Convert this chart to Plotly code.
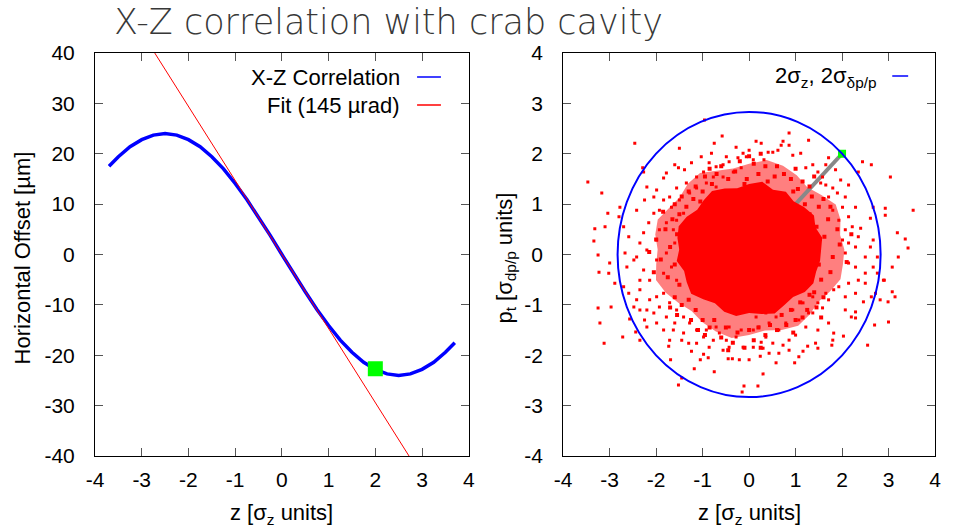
import plotly.graph_objects as go

# ---------------- data ----------------
# left panel: X-Z correlation curve
corr_z = [-3.7, -3.5, -3.25, -3.0, -2.75, -2.5, -2.25, -2.0, -1.75, -1.5, -1.25, -1.0, -0.75, -0.5, -0.25,
          0.0, 0.25, 0.5, 0.75, 1.0, 1.25, 1.5, 1.75, 2.0, 2.25, 2.5, 2.75, 3.0, 3.25, 3.5, 3.7]
corr_x = [17.5, 19.4, 21.4, 22.8, 23.7, 24.0, 23.7, 22.8, 21.4, 19.4, 17.0, 14.1, 10.9, 7.4, 3.8,
          0.0, -3.8, -7.4, -10.9, -14.1, -17.0, -19.4, -21.4, -22.8, -23.7, -24.0, -23.7, -22.8, -21.4, -19.4, -17.5]
fit_z = [-4.0, 4.0]
fit_x = [58.8, -58.8]
mark_left_z = [2.0]
mark_left_x = [-22.7]

# right panel
circle_r = 2.83
arrow_z = [0.0, 2.0]
arrow_p = [0.0, 2.0]
mark_right_z = [2.0]
mark_right_p = [2.0]

# dense core of the particle cloud (outline)
core_z = [1.55, 1.573, 1.428, 1.396, 1.187, 0.957, 0.791, 0.514, 0.283, 0.0, -0.256, -0.525, -0.798, -0.977,
          -1.116, -1.342, -1.515, -1.542, -1.504, -1.557, -1.399, -1.342, -1.247, -0.987, -0.736, -0.535,
          -0.278, 0.0, 0.270, 0.551, 0.760, 0.947, 1.199, 1.383, 1.442, 1.527, 1.55]
core_p = [0.10, 0.333, 0.536, 0.776, 0.936, 1.056, 1.248, 1.285, 1.444, 1.40, 1.316, 1.310, 1.260, 1.076,
          0.886, 0.75, 0.562, 0.328, 0.10, -0.131, -0.327, -0.55, -0.778, -0.886, -0.970, -1.134,
          -1.219, -1.161, -1.181, -1.171, -1.003, -0.846, -0.744, -0.570, -0.340, -0.126, 0.10]
# semi-dense zone outline
mid_z = [2.05, 1.959, 1.966, 1.864, 1.555, 1.252, 1.025, 0.729, 0.378, 0.0, -0.342, -0.687, -1.056, -1.318,
         -1.492, -1.722, -1.966, -2.019, -1.968, -1.999, -2.004, -1.793, -1.523, -1.239, -1.005, -0.715,
         -0.375, 0.0, 0.342, 0.701, 1.056, 1.305, 1.492, 1.740, 1.966, 2.019, 2.05]
mid_p = [0.10, 0.387, 0.693, 0.993, 1.182, 1.337, 1.572, 1.762, 1.875, 1.80, 1.708, 1.666, 1.616, 1.402,
         1.138, 0.925, 0.693, 0.396, 0.10, -0.193, -0.505, -0.759, -0.960, -1.124, -1.343, -1.530,
         -1.658, -1.60, -1.507, -1.498, -1.416, -1.189, -0.938, -0.733, -0.493, -0.196, 0.10]

# semi-dense zone particles
mid_dots_z = [1.35, 1.5, 1.62, 1.8, 1.45, 1.7, 1.95, 1.55, 1.75, 2.1, 1.4, 1.9, 1.3, 1.6, 2.2,
              1.2, 1.35, 1.05, 0.9, 1.5, 1.15, 0.75, 1.6, 1.3, 0.95, 1.75, 0.6, 1.0, 1.4,
              0.4, 0.2, -0.05, -0.3, 0.1, -0.2, 0.35, -0.45, 0.55, 0.0, -0.6, 0.25, -0.1,
              -0.8, -1.0, -1.2, -0.95, -1.35, -1.15, -1.5, -0.7, -1.3, -1.6, -1.05, -1.45, -0.85,
              -1.55, -1.7, -1.6, -1.8, -1.9, -1.65, -2.0, -1.75, -1.5, -2.05, -1.85, -1.45, -2.15,
              -1.3, -1.15, -1.45, -1.0, -1.6, -1.25, -0.85, -1.55, -1.1, -0.75, -1.7, -0.95,
              -0.5, -0.25, 0.0, 0.2, -0.35, 0.1, 0.35, -0.6, -0.1, 0.45, 0.25, -0.45,
              0.7, 0.9, 1.1, 0.8, 1.25, 0.6, 1.0, 1.3, 1.45, 1.15, 0.95, 1.55]
mid_dots_p = [0.1, -0.2, 0.35, -0.05, 0.55, 0.7, 0.2, -0.5, -0.35, -0.15, -0.75, 0.5, 0.8, -0.85, 0.4,
              1.0, 1.15, 1.3, 1.5, 0.95, 1.45, 1.6, 1.1, 1.35, 1.25, 0.95, 1.75, 1.7, 1.55,
              1.45, 1.6, 1.5, 1.65, 1.8, 1.85, 1.75, 1.5, 1.55, 1.95, 1.75, 2.0, 1.4,
              1.4, 1.25, 1.1, 1.55, 0.95, 1.35, 0.8, 1.6, 1.25, 1.0, 1.05, 1.15, 1.7,
              0.4, 0.15, -0.2, 0.5, -0.1, 0.7, 0.3, -0.45, -0.6, -0.35, 0.85, 0.1, 0.05,
              -0.9, -1.1, -1.0, -1.3, -0.85, -1.3, -1.45, -1.2, -1.5, -1.3, -1.05, -1.6,
              -1.45, -1.55, -1.5, -1.45, -1.75, -1.7, -1.6, -1.65, -1.85, -1.4, -1.85, -1.9,
              -1.2, -1.1, -0.95, -1.4, -1.1, -1.5, -1.3, -0.8, -1.05, -1.25, -1.55, -1.25]

# sparse outer particles
dots_z = [-2.46, -3.47, -3.17, -3.04, -3.32, -3.10, -3.34, -3.25, -3.0, -3.23, -3.02, -2.80, -2.78, -2.29, -2.27,
          -1.50, -0.96, -0.58, -0.75, -0.28, -1.03, -0.81, -1.24, -1.60, -1.52, -1.39, -1.78, -1.84, -1.99, -2.20,
          -2.25, -2.05, -2.42, -2.70, -2.59, -2.67, -2.48, -2.63, -2.35, -2.89,
          -3.25, -3.21, -3.12, -2.97, -2.72, -2.57, -2.44, -2.35, -2.25, -1.99, -2.20, -1.71, -1.73, -1.69, -1.45,
          -1.52, -1.18, -1.05, -0.88, -0.75, -1.24, -0.98, -0.45, -0.36, -0.21, -0.15, -0.11, -1.63, -1.41, -1.30,
          -0.86, -0.56, -0.43, -2.05, -2.35, -2.48,
          0.19, 0.30, 0.58, 0.98, 0.86, 0.64, 0.43, 0.24, 1.07, 1.16, 1.26, 1.43, 1.48, 1.78, 1.80, 2.03, 1.82,
          1.71, 2.29, 2.20, 2.07, 2.29, 2.46, 2.63, 2.70, 2.55, 3.00, 2.82, 2.99, 3.08, 3.14, 2.91, 2.72, 2.29,
          2.50, 2.07, 1.93, 1.71, 1.58, 1.37, 1.22, 1.48, 0.86, 0.73, 0.51, 0.30, 0.09, 0.00, 0.36, 1.00, 0.26,
          3.53, 3.36, 3.42, 3.19, 3.21, 3.04, 2.93, 2.93, 3.08, 2.89, 2.63, 2.44, 2.35, 2.67, 2.61, 2.40, 2.67,
          2.61, 2.50, 2.76, 2.67, 2.76, 2.50, 2.29, 2.35, 2.22, 2.14, 2.29, 2.07, 2.14, 1.97, 1.86, 1.71, 1.65,
          1.28, 1.11, 0.86, 0.73, 0.69, 0.86, 0.26, 0.15, 0.41, 0.51, 0.62, 0.94, 1.22, 1.37, 1.48, 1.58, 1.80,
          1.90, 1.71, 1.65, 1.54, 2.01, 1.80, 1.93, 2.07, 2.01, 2.14, 2.07, 2.14, 2.29, 2.35, 2.14, 0.00, -0.06,
          0.09, 0.32,
          -0.71, -0.56, -0.43, -0.24, -0.13, -0.49, -0.86, -0.98, -1.13, -0.77, -0.56, -0.34, -0.17, -1.35, -1.56,
          -1.71, -1.84, -1.93, -2.05, -2.16, -2.27, -2.35, -2.20, -2.42, -2.27, -2.14, -1.99, -1.93, -1.78, -1.99,
          -1.84, -1.78, -1.60, -1.67, -1.50, -1.28, -1.13, -0.92, -0.71, -1.41, -1.56, -1.63, -1.67, -1.56,
          -1.99, -2.14, -1.84, -1.71, -1.56, -1.41, -1.28, -1.13, -0.98, -0.77, -0.64, -0.49, -0.28, -0.13, -2.35,
          -2.59, -2.42, -2.70, -2.20, -1.93, -1.78, -1.60, -1.84, -1.45, -1.13, -0.92, -0.71, -0.43, -0.17,
          0.09, 0.21, 0.43, 0.64, 0.79, 1.07, 1.28, 1.48, 1.65, 1.82, 1.37, 1.16, 0.94, 0.58, 0.15, 0.36]
dots_p = [2.21, 1.44, 1.22, 0.82, 0.51, 0.55, 0.27, -0.01, -0.17, -0.35, -0.37, 0.75, 0.94, 1.72, 1.64,
          2.11, 2.67, 2.35, 2.21, 2.13, 1.94, 2.01, 1.82, 1.78, 1.72, 1.68, 1.62, 1.52, 1.28, 1.34,
          1.08, 1.14, 0.88, 0.55, 0.35, 0.03, -0.11, -0.25, -0.51, -0.57,
          -1.06, -1.36, -1.76, -1.04, -1.64, -1.28, -1.54, -1.70, -1.30, -1.36, -1.44, -1.70, -1.82, -2.09, -2.45,
          -2.59, -2.27, -2.09, -2.05, -2.33, -1.92, -1.98, -2.07, -2.07, -2.09, -2.73, -2.61, -1.50, -1.56, -1.76,
          -1.84, -1.90, -1.84, -1.16, -1.10, -1.04,
          -2.61, -2.37, -2.15, -2.15, -1.90, -1.96, -1.96, -2.02, -2.03, -1.92, -1.82, -1.76, -1.86, -1.80, -1.70,
          -1.62, -1.56, -1.36, -1.26, -1.24, -1.10, -1.14, -0.94, -0.84, -1.40, -1.80, -1.34, -0.90, -0.94, -0.74,
          -0.84, -0.51, -0.77, -0.77, -0.57, -0.84, -0.64, -0.90, -1.06, -1.16, -1.44, -1.50, -1.70, -1.80, -1.76,
          -1.86, -1.84, -2.09, -1.64, -1.60, -1.74,
          0.88, 0.31, 0.13, 0.43, -0.05, 1.54, 0.92, 0.78, -0.25, -0.51, 1.78, 1.84, 1.64, 0.94, 0.72, 0.52, 0.29,
          0.15, -0.05, -0.05, -0.25, -0.37, -0.37, 0.15, 0.35, 0.55, 0.75, 0.94, 1.14, 1.38, 1.48, 1.68, 1.92, 1.78,
          2.27, 2.01, 2.41, 2.25, 2.17, 2.17, 2.21, 2.25, 2.03, 2.03, 2.07, 1.97, 1.72, 1.78, 1.64, 1.54, 1.32,
          1.22, 1.14, 1.38, 1.42, 0.94, 0.88, 0.68, 0.49, 0.29, 0.23, 0.03, -0.17, -0.25, -0.51, -0.57, 2.07, 1.94,
          1.88, 1.88,
          1.74, 1.78, 1.84, 1.92, 2.01, 1.94, 1.82, 1.64, 1.54, 1.54, 1.54, 1.64, 1.72, 1.42, 1.32,
          1.14, 1.08, 0.88, 0.82, 0.63, 0.43, 0.23, 0.09, -0.05, -0.31, -0.51, 0.29, 0.49, 0.63, -0.11,
          -0.37, 0.03, 0.23, 0.94, 1.08, 1.22, 1.32, 1.42, 1.34, 0.82, 0.68, 0.49, -0.25, -0.51,
          -0.84, -0.90, -0.77, -0.96, -1.10, -1.24, -1.36, -1.50, -1.64, -1.70, -1.56, -1.70, -1.64, -1.84, -0.70,
          -0.77, -0.90, -0.64, -1.10, -1.04, -1.24, -1.36, -1.50, -1.70, -1.76, -1.50, -1.44, -1.44, -1.50,
          -1.50, -1.44, -1.36, -1.50, -1.36, -1.30, -1.16, -0.96, -0.77, -0.70, -0.84, -0.96, -1.10, -1.24, -1.24, -1.16]

# ticks
xtick_vals = [-4, -3, -2, -1, 0, 1, 2, 3, 4]
xtick_text = ["-4", "-3", "-2", "-1", "0", "1", "2", "3", "4"]
ly_vals = [-40, -30, -20, -10, 0, 10, 20, 30, 40]
ly_text = ["-40", "-30", "-20", "-10", "0", "10", "20", "30", "40"]
ry_vals = [-4, -3, -2, -1, 0, 1, 2, 3, 4]
ry_text = ["-4", "-3", "-2", "-1", "0", "1", "2", "3", "4"]

# ---------------- figure ----------------
W, H = 953, 531
ML, MR, MT, MB = 95, 13, 53, 75
PW = W - ML - MR
PH = H - MT - MB


def px(x):
    return (x - ML) / PW


def py(y):
    return (H - MB - y) / PH


FONT = "Liberation Sans, Arial, Helvetica, sans-serif"
RED = "#ff0000"
BLUE = "#0000ff"

fig = go.Figure()

# left panel
fig.add_trace(go.Scatter(x=corr_z, y=corr_x, mode="lines", line=dict(color=BLUE, width=3.5),
                         xaxis="x", yaxis="y", showlegend=False))
fig.add_trace(go.Scatter(x=fit_z, y=fit_x, mode="lines", line=dict(color=RED, width=1),
                         xaxis="x", yaxis="y", showlegend=False))
fig.add_trace(go.Scatter(x=mark_left_z, y=mark_left_x, mode="markers",
                         marker=dict(symbol="square", size=15, color="#00ff00", line=dict(width=0)),
                         xaxis="x", yaxis="y", showlegend=False))

# right panel
fig.add_trace(go.Scatter(x=mid_z, y=mid_p, mode="lines", fill="toself", line=dict(width=0),
                         fillcolor="rgba(255,0,0,0.5)", xaxis="x2", yaxis="y2", showlegend=False))
fig.add_trace(go.Scatter(x=arrow_z, y=arrow_p, mode="lines", line=dict(color="#888888", width=4),
                         xaxis="x2", yaxis="y2", showlegend=False))
fig.add_trace(go.Scatter(x=core_z, y=core_p, mode="lines", fill="toself", line=dict(width=0),
                         fillcolor=RED, xaxis="x2", yaxis="y2", showlegend=False))
fig.add_trace(go.Scatter(x=mid_dots_z, y=mid_dots_p, mode="markers",
                         marker=dict(symbol="square", size=4, color=RED, line=dict(width=0)),
                         xaxis="x2", yaxis="y2", showlegend=False))
fig.add_trace(go.Scatter(x=dots_z, y=dots_p, mode="markers",
                         marker=dict(symbol="square", size=3, color=RED, line=dict(width=0)),
                         xaxis="x2", yaxis="y2", showlegend=False))
fig.add_trace(go.Scatter(x=mark_right_z, y=mark_right_p, mode="markers",
                         marker=dict(symbol="square", size=8, color="#00ff00", line=dict(width=0)),
                         xaxis="x2", yaxis="y2", showlegend=False))

fig.add_shape(type="circle", xref="x2", yref="y2", x0=-circle_r, x1=circle_r, y0=-circle_r, y1=circle_r,
              line=dict(color=BLUE, width=2))

axis_common = dict(showline=True, linecolor="#000000", linewidth=1, mirror="ticks", ticks="inside",
                   ticklen=8, tickcolor="#555555", showgrid=False, zeroline=False,
                   tickfont=dict(family=FONT, size=21, color="#000000"), tickmode="array")

fig.update_layout(
    width=W, height=H, margin=dict(l=ML, r=MR, t=MT, b=MB),
    paper_bgcolor="white", plot_bgcolor="white", showlegend=False,
    xaxis=dict(domain=[0, px(471)], range=[-4, 4], tickvals=xtick_vals, ticktext=xtick_text,
               anchor="y", ticklabelstandoff=5, **axis_common),
    yaxis=dict(domain=[0, 1], range=[-40, 40], tickvals=ly_vals, ticktext=ly_text,
               anchor="x", ticklabelstandoff=15, **axis_common),
    xaxis2=dict(domain=[px(566), 1], range=[-4, 4], tickvals=xtick_vals, ticktext=xtick_text,
                anchor="y2", ticklabelstandoff=5, **axis_common),
    yaxis2=dict(domain=[0, 1], range=[-4, 4], tickvals=ry_vals, ticktext=ry_text,
                anchor="x2", ticklabelstandoff=15, **axis_common),
)

ann_font = dict(family=FONT, size=22, color="#000000")
annotations = [
    dict(text="X-Z correlation with crab cavity", x=px(112), y=py(22), xref="paper", yref="paper",
         xanchor="left", yanchor="middle", showarrow=False,
         font=dict(family="DejaVu Sans ExtraLight, DejaVu Sans, sans-serif", size=35, color="#383838", weight=200)),
    dict(text="z [σ<sub>z</sub> units]", x=px(283), y=py(514), xref="paper", yref="paper",
         xanchor="center", yanchor="middle", showarrow=False, font=ann_font),
    dict(text="z [σ<sub>z</sub> units]", x=px(753), y=py(514), xref="paper", yref="paper",
         xanchor="center", yanchor="middle", showarrow=False, font=ann_font),
    dict(text="Horizontal Offset [µm]", x=px(22), y=py(258), xref="paper", yref="paper",
         xanchor="center", yanchor="middle", textangle=-90, showarrow=False, font=ann_font),
    dict(text="p<sub>t</sub> [σ<sub>dp/p</sub> units]", x=px(508), y=py(258), xref="paper", yref="paper",
         xanchor="center", yanchor="middle", textangle=-90, showarrow=False, font=ann_font),
    dict(text="X-Z Correlation", x=px(404), y=py(77), xref="paper", yref="paper",
         xanchor="right", yanchor="middle", showarrow=False, font=ann_font),
    dict(text="Fit (145 µrad)", x=px(404), y=py(105), xref="paper", yref="paper",
         xanchor="right", yanchor="middle", showarrow=False, font=ann_font),
    dict(text="2σ<sub>z</sub>, 2σ<sub>δp/p</sub>", x=px(884), y=py(77), xref="paper", yref="paper",
         xanchor="right", yanchor="middle", showarrow=False, font=ann_font),
]
fig.update_layout(annotations=annotations)

# legend sample lines
fig.add_shape(type="line", xref="paper", yref="paper", x0=px(419), x1=px(443), y0=py(77), y1=py(77),
              line=dict(color=BLUE, width=1.5))
fig.add_shape(type="line", xref="paper", yref="paper", x0=px(419), x1=px(443), y0=py(105), y1=py(105),
              line=dict(color=RED, width=1.5))
fig.add_shape(type="line", xref="paper", yref="paper", x0=px(897), x1=px(913), y0=py(76), y1=py(76),
              line=dict(color=BLUE, width=1.5))

fig.write_html("out.html")
